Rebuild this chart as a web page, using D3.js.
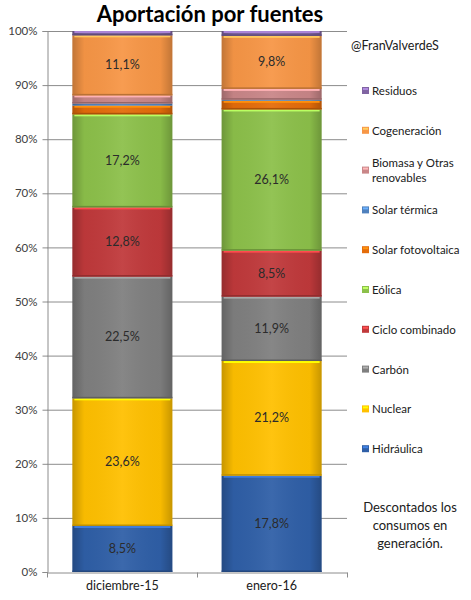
<!DOCTYPE html>
<html>
<head>
<meta charset="utf-8">
<script src="https://cdn.jsdelivr.net/npm/d3@7"></script>
<style>
  body { margin: 0; background: #fff; }
  svg { font-family: Lato, "Open Sans", sans-serif; }
</style>
</head>
<body>
<div id="chart"></div>
<script>
// categories and series (stack order, bottom to top)
var categories = ["diciembre-15", "enero-16"];
var series = ["Hidráulica", "Nuclear", "Carbón", "Ciclo combinado", "Eólica",
  "Solar fotovoltaica", "Solar térmica", "Biomasa y Otras renovables", "Cogeneración", "Residuos"];
var dic15 = [8.5, 23.6, 22.5, 12.8, 17.2, 1.6, 0.4, 1.5, 11.1, 0.8];
var ene16 = [17.8, 21.2, 11.9, 8.5, 26.1, 1.6, 0.2, 2.0, 9.8, 0.9];
var yTicks = [0, 10, 20, 30, 40, 50, 60, 70, 80, 90, 100];

var colors = d3.scaleOrdinal()
  .domain(series)
  .range(["#2f5fa7", "#ffc000", "#7f7f7f", "#c0393b", "#8cc04a",
          "#e46c0a", "#4f81bd", "#c98688", "#f79646", "#8064a2"]);

var width = 471, height = 600;
var margin = {top: 31, left: 47, bottom: 28, right: 124};

var svg = d3.select("#chart").append("svg")
  .attr("width", width)
  .attr("height", height);

// build rows for the stack
var data = categories.map(function(c, i) {
  var row = {cat: c};
  var vals = i === 0 ? dic15 : ene16;
  series.forEach(function(s, j) { row[s] = vals[j]; });
  return row;
});

var stacked = d3.stack().keys(series)(data);

var x = d3.scaleBand()
  .domain(categories)
  .range([margin.left, width - margin.right])
  .paddingInner(0.33)
  .paddingOuter(0.17);

var y = d3.scaleLinear()
  .domain([0, 100])
  .range([height - margin.bottom, margin.top]);

// shading gradient for the bevel look
var defs = svg.append("defs");
var grad = defs.append("linearGradient").attr("id", "shade")
  .attr("x1", "0").attr("x2", "1").attr("y1", "0").attr("y2", "0");
grad.append("stop").attr("offset", "0").attr("stop-color", "#000").attr("stop-opacity", 0.22);
grad.append("stop").attr("offset", "0.12").attr("stop-color", "#000").attr("stop-opacity", 0.03);
grad.append("stop").attr("offset", "0.5").attr("stop-color", "#fff").attr("stop-opacity", 0.06);
grad.append("stop").attr("offset", "0.88").attr("stop-color", "#000").attr("stop-opacity", 0.03);
grad.append("stop").attr("offset", "1").attr("stop-color", "#000").attr("stop-opacity", 0.22);

// gridlines
svg.append("g")
  .selectAll("line")
  .data(yTicks.filter(function(d) { return d > 0; }))
  .enter().append("line")
    .attr("x1", margin.left)
    .attr("x2", width - margin.right)
    .attr("y1", function(d) { return y(d) + 0.5; })
    .attr("y2", function(d) { return y(d) + 0.5; })
    .attr("stroke", "#8c8c8c")
    .attr("stroke-width", 1);

// y axis
var yAxis = svg.append("g")
  .attr("transform", "translate(" + (margin.left + 0.5) + ",0)")
  .call(d3.axisLeft(y).tickValues(yTicks).tickSize(5).tickPadding(5)
    .tickFormat(function(d) { return d + "%"; }));
yAxis.select(".domain").attr("stroke", "#8c8c8c");
yAxis.selectAll(".tick line").attr("stroke", "#8c8c8c");
yAxis.selectAll("text").attr("font-size", 11.5).attr("fill", "#404040")
  .attr("font-family", "Lato, sans-serif");

// layers
var layers = svg.selectAll("g.layer")
  .data(stacked)
  .enter().append("g")
    .attr("class", "layer")
    .attr("fill", function(d) { return colors(d.key); });

layers.selectAll("rect.seg")
  .data(function(d) { return d; })
  .enter().append("rect")
    .attr("class", "seg")
    .attr("x", function(d) { return x(d.data.cat); })
    .attr("y", function(d) { return y(d[1]); })
    .attr("width", x.bandwidth())
    .attr("height", function(d) { return y(d[0]) - y(d[1]); });

// bevel: shade overlay + top highlight + bottom dark edge
layers.each(function(layer) {
  var g = d3.select(this);
  var base = d3.color(colors(layer.key));
  g.selectAll("rect.shade")
    .data(layer)
    .enter().append("rect")
      .attr("class", "shade")
      .attr("x", function(d) { return x(d.data.cat); })
      .attr("y", function(d) { return y(d[1]); })
      .attr("width", x.bandwidth())
      .attr("height", function(d) { return y(d[0]) - y(d[1]); })
      .attr("fill", "url(#shade)");
  g.selectAll("rect.hi")
    .data(layer.filter(function(d) { return y(d[0]) - y(d[1]) > 3; }))
    .enter().append("rect")
      .attr("class", "hi")
      .attr("x", function(d) { return x(d.data.cat) + 2; })
      .attr("y", function(d) { return y(d[1]); })
      .attr("width", x.bandwidth() - 4)
      .attr("height", 2)
      .attr("fill", base.brighter(0.8));
  g.selectAll("rect.lo")
    .data(layer.filter(function(d) { return y(d[0]) - y(d[1]) > 3; }))
    .enter().append("rect")
      .attr("class", "lo")
      .attr("x", function(d) { return x(d.data.cat); })
      .attr("y", function(d) { return y(d[0]) - 1.5; })
      .attr("width", x.bandwidth())
      .attr("height", 1.5)
      .attr("fill", base.darker(0.8));
});

// value labels
layers.selectAll("text")
  .data(function(d) { return d.filter(function(p) { return p[1] - p[0] >= 5; }); })
  .enter().append("text")
    .attr("x", function(d) { return x(d.data.cat) + x.bandwidth() / 2; })
    .attr("y", function(d) { return (y(d[0]) + y(d[1])) / 2 + 4; })
    .attr("text-anchor", "middle")
    .attr("font-size", 12.5)
    .attr("fill", "#2b2b2b")
    .text(function(d) { return d3.format(".1f")(d[1] - d[0]).replace(".", ",") + "%"; });

// x axis
var xAxis = svg.append("g")
  .attr("transform", "translate(0," + (y(0) + 0.5) + ")")
  .call(d3.axisBottom(x).tickSize(0).tickPadding(9));
xAxis.select(".domain").attr("stroke", "#8c8c8c");
xAxis.selectAll("text").attr("font-size", 12.5).attr("fill", "#202020")
  .attr("font-family", "Lato, sans-serif");
// category separator ticks
xAxis.selectAll("line.sep")
  .data([0, 1, 2])
  .enter().append("line")
    .attr("x1", function(d) { return margin.left + 0.5 + d * (width - margin.right - margin.left) / 2; })
    .attr("x2", function(d) { return margin.left + 0.5 + d * (width - margin.right - margin.left) / 2; })
    .attr("y1", 0).attr("y2", 5)
    .attr("stroke", "#8c8c8c");

// title
svg.append("text")
  .attr("x", 210)
  .attr("y", 22)
  .attr("text-anchor", "middle")
  .attr("font-size", 22)
  .attr("font-weight", "bold")
  .attr("fill", "#000")
  .text("Aportación por fuentes");

svg.append("text")
  .attr("x", 351)
  .attr("y", 50)
  .attr("font-size", 12.5)
  .attr("fill", "#202020")
  .text("@FranValverdeS");

// legend (top to bottom: reverse stack order)
var legendTop = 91, legendStep = 39.8;
var legend = svg.selectAll(".legend")
  .data(series.slice().reverse())
  .enter().append("g")
    .attr("class", "legend")
    .attr("transform", function(d, i) { return "translate(362," + (legendTop + i * legendStep) + ")"; });

legend.append("rect")
  .attr("x", 0).attr("y", -4)
  .attr("width", 7).attr("height", 7)
  .attr("fill", function(d) { return colors(d); });
legend.append("rect")
  .attr("x", 1).attr("y", -3)
  .attr("width", 5).attr("height", 2)
  .attr("fill", function(d) { return d3.color(colors(d)).brighter(0.9); });

legend.append("text")
  .attr("x", 10)
  .attr("y", 4)
  .attr("font-size", 11.5)
  .attr("fill", "#202020")
  .each(function(d) {
    var t = d3.select(this);
    if (d === "Biomasa y Otras renovables") {
      t.attr("y", -4);
      t.append("tspan").attr("x", 10).text("Biomasa y Otras");
      t.append("tspan").attr("x", 10).attr("dy", 15).text("renovables");
    } else {
      t.text(d);
    }
  });

// note
var note = svg.append("text")
  .attr("x", 410)
  .attr("y", 512)
  .attr("text-anchor", "middle")
  .attr("font-size", 13)
  .attr("fill", "#202020");
["Descontados los", "consumos en", "generación."].forEach(function(l, i) {
  note.append("tspan").attr("x", 410).attr("dy", i === 0 ? 0 : 18).text(l);
});
</script>
</body>
</html>
